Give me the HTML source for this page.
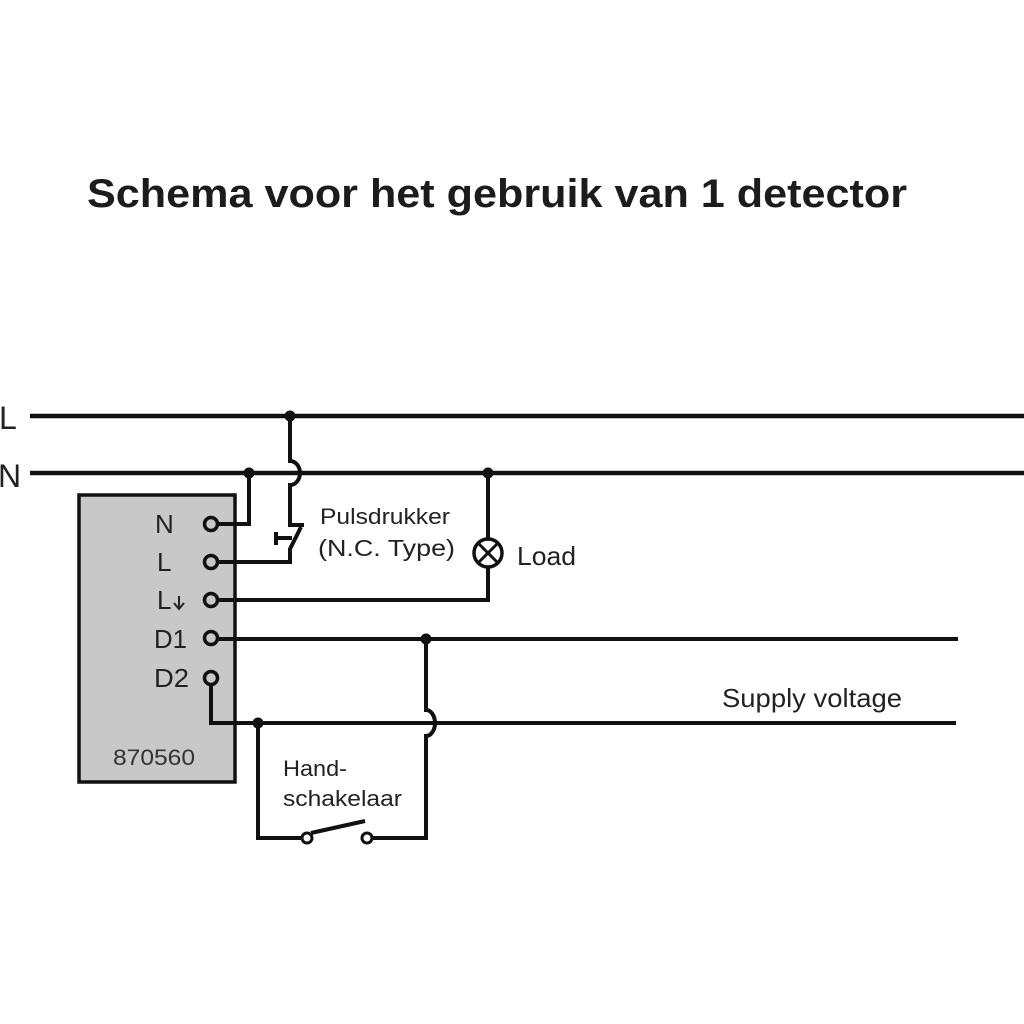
<!DOCTYPE html>
<html>
<head>
<meta charset="utf-8">
<style>
html,body{margin:0;padding:0;background:#fff;}
svg{display:block;}
text{font-family:"Liberation Sans",sans-serif;}
</style>
</head>
<body>
<svg width="1024" height="1024" viewBox="0 0 1024 1024" xmlns="http://www.w3.org/2000/svg">
<rect width="1024" height="1024" fill="#fff"/>
<text x="87" y="207" font-size="40" font-weight="bold" fill="#1c1c1c" textLength="820" lengthAdjust="spacingAndGlyphs">Schema voor het gebruik van 1 detector</text>

<!-- main lines -->
<g stroke="#111" stroke-width="4.5" fill="none">
<path d="M30,416 H1024"/>
<path d="M30,473 H1024"/>
</g>
<text x="-1" y="429" font-size="32" fill="#222">L</text>
<text x="-2" y="487" font-size="32" fill="#222">N</text>

<!-- box -->
<rect x="79" y="495" width="156" height="287" fill="#c8c8c8" stroke="#111" stroke-width="3.5"/>
<g font-size="26" fill="#222">
<text x="155" y="533">N</text>
<text x="157" y="571">L</text>
<text x="157" y="609">L</text>
<text x="154" y="648" textLength="33" lengthAdjust="spacingAndGlyphs">D1</text>
<text x="154" y="687" textLength="35" lengthAdjust="spacingAndGlyphs">D2</text>
</g>
<path d="M179,596 V608 M174,603 L179,609 L184,603" stroke="#222" stroke-width="2" fill="none"/>
<text x="113" y="765" font-size="22" fill="#333" textLength="82" lengthAdjust="spacingAndGlyphs">870560</text>

<!-- wires -->
<g stroke="#111" stroke-width="4" fill="none">
<path d="M249,473 V524 H217"/>
<path d="M290,416 V461 A10 12 0 0 1 290,485 V525 H304"/>
<path d="M301,527 L290,549 V562 H217"/>
<path d="M276,538 H292 M276,532 V545"/>
<path d="M488,473 V539 M488,567 V600 H217"/>
<path d="M217,639 H958"/>
<path d="M211,685 V723 H956"/>
<path d="M426,639 V710 A9 13 0 0 1 426,736 V838 H372"/>
<path d="M258,723 V838 H302"/>
<path d="M311,833 L365,821"/>
</g>

<!-- terminals -->
<g stroke="#111" stroke-width="3.5" fill="#c8c8c8">
<circle cx="211" cy="524" r="6.5"/>
<circle cx="211" cy="562" r="6.5"/>
<circle cx="211" cy="600" r="6.5"/>
<circle cx="211" cy="638" r="6.5"/>
<circle cx="211" cy="678" r="6.5"/>
</g>
<g stroke="#111" stroke-width="3" fill="#fff">
<circle cx="307" cy="838" r="5"/>
<circle cx="367" cy="838" r="5"/>
</g>

<!-- lamp -->
<circle cx="488" cy="553" r="14" stroke="#111" stroke-width="3.5" fill="#fff"/>
<path d="M478,543 L498,563 M498,543 L478,563" stroke="#111" stroke-width="3"/>

<!-- dots -->
<g fill="#111">
<circle cx="290" cy="416" r="5.5"/>
<circle cx="249" cy="473" r="5.5"/>
<circle cx="488" cy="473" r="5.5"/>
<circle cx="426" cy="639" r="5.5"/>
<circle cx="258" cy="723" r="5.5"/>
</g>

<!-- labels -->
<g fill="#222">
<text x="320" y="524" font-size="22" textLength="130" lengthAdjust="spacingAndGlyphs">Pulsdrukker</text>
<text x="318" y="556" font-size="23" textLength="137" lengthAdjust="spacingAndGlyphs">(N.C. Type)</text>
<text x="517" y="565" font-size="26" textLength="59" lengthAdjust="spacingAndGlyphs">Load</text>
<text x="722" y="707" font-size="26" textLength="180" lengthAdjust="spacingAndGlyphs">Supply voltage</text>
<text x="283" y="776" font-size="22" textLength="64" lengthAdjust="spacingAndGlyphs">Hand-</text>
<text x="283" y="806" font-size="22" textLength="119" lengthAdjust="spacingAndGlyphs">schakelaar</text>
</g>
</svg>
</body>
</html>
